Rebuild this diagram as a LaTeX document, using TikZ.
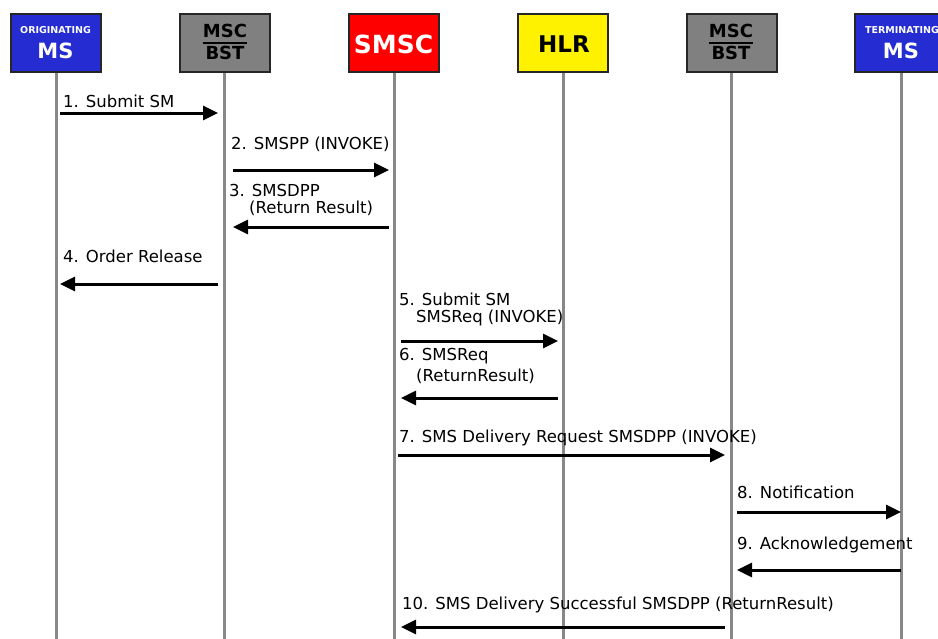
\documentclass[tikz,border=0pt]{standalone}
\usepackage{fontspec}
\setmainfont{DejaVu Sans}
\usetikzlibrary{arrows.meta}
\definecolor{msblue}{RGB}{36,44,210}
\definecolor{mscgray}{RGB}{128,128,128}
\definecolor{lifegray}{RGB}{136,136,136}
\begin{document}
\begin{tikzpicture}[x=1pt,y=-1pt,
  hdr/.style={draw=black!85, line width=2pt, minimum width=90pt, minimum height=58pt, inner sep=0pt},
  htxt/.style={inner sep=0pt, font=\bfseries},
  life/.style={draw=lifegray, line width=3pt},
  msg/.style={draw=black, line width=3pt, -{Triangle[length=15pt,width=14pt]}},
  lbl/.style={anchor=west, inner sep=0pt, font=\fontsize{16.5}{18}\selectfont}]
\useasboundingbox (0,0) rectangle (938,638);
% header boxes
\node[hdr, fill=msblue] (oms) at (55.5,43) {};
\node[htxt, text=white, font=\bfseries\fontsize{9.5}{10}\selectfont] (omsa) at (55.5,30) {ORIGINATING};
\node[htxt, text=white, font=\bfseries\fontsize{21}{22}\selectfont] (omsb) at (55.5,51) {MS};
\node[hdr, fill=mscgray] (msc1) at (225,43) {};
\node[htxt, font=\bfseries\fontsize{18}{18}\selectfont] (msc1a) at (225,31) {MSC};
\node[htxt, font=\bfseries\fontsize{18}{18}\selectfont] (msc1b) at (225,53) {BST};
\draw[line width=2pt] (msc1a.west |- 0,42.5) -- (msc1a.east |- 0,42.5);
\node[hdr, fill=red] (smsc) at (393.5,43) {};
\node[htxt, text=white, font=\bfseries\fontsize{25}{25}\selectfont] (smsct) at (393.5,44) {SMSC};
\node[hdr, fill=yellow] (hlr) at (562.5,43) {};
\node[htxt, font=\bfseries\fontsize{23}{23}\selectfont] (hlrt) at (564,44) {HLR};
\node[hdr, fill=mscgray] (msc2) at (732,43) {};
\node[htxt, font=\bfseries\fontsize{18}{18}\selectfont] (msc2a) at (731,31) {MSC};
\node[htxt, font=\bfseries\fontsize{18}{18}\selectfont] (msc2b) at (731,53) {BST};
\draw[line width=2pt] (msc2a.west |- 0,42.5) -- (msc2a.east |- 0,42.5);
\node[hdr, fill=msblue] (tms) at (900,43) {};
\node[htxt, text=white, font=\bfseries\fontsize{9.5}{10}\selectfont] (tmsa) at (902,30) {TERMINATING};
\node[htxt, text=white, font=\bfseries\fontsize{21}{22}\selectfont] (tmsb) at (901,51) {MS};
% lifeline ends
\coordinate (oe) at (56,640);
\coordinate (m1e) at (224,640);
\coordinate (se) at (394,640);
\coordinate (he) at (563,640);
\coordinate (m2e) at (731,640);
\coordinate (te) at (901,640);
\draw[life] (oms.south -| oe) -- (oe);
\draw[life] (msc1.south -| m1e) -- (m1e);
\draw[life] (smsc.south -| se) -- (se);
\draw[life] (hlr.south -| he) -- (he);
\draw[life] (msc2.south -| m2e) -- (m2e);
\draw[life] (tms.south -| te) -- (te);
% message endpoints
\coordinate (a1) at (60,113);  \coordinate (b1) at (218,113);
\coordinate (a2) at (233,170); \coordinate (b2) at (389,170);
\coordinate (a3) at (389,227); \coordinate (b3) at (233,227);
\coordinate (a4) at (218,284); \coordinate (b4) at (60,284);
\coordinate (a5) at (401,341); \coordinate (b5) at (558,341);
\coordinate (a6) at (558,398); \coordinate (b6) at (401,398);
\coordinate (a7) at (398,455); \coordinate (b7) at (725,455);
\coordinate (a8) at (737,512); \coordinate (b8) at (901,512);
\coordinate (a9) at (901,570); \coordinate (b9) at (737,570);
\coordinate (a10) at (725,627); \coordinate (b10) at (401,627);
\draw[msg] (a1) -- (b1);
\draw[msg] (a2) -- (b2);
\draw[msg] (a3) -- (b3);
\draw[msg] (a4) -- (b4);
\draw[msg] (a5) -- (b5);
\draw[msg] (a6) -- (b6);
\draw[msg] (a7) -- (b7);
\draw[msg] (a8) -- (b8);
\draw[msg] (a9) -- (b9);
\draw[msg] (a10) -- (b10);
% labels
\node[lbl] (l1) at (63,101) {1. Submit SM};
\node[lbl] (l2) at (231,144) {2. SMSPP (INVOKE)};
\node[lbl] (l3) at (229,190) {3. SMSDPP};
\node[lbl] (l3b) at (249,208) {(Return Result)};
\node[lbl] (l4) at (63,256) {4. Order Release};
\node[lbl] (l5) at (399,299) {5. Submit SM};
\node[lbl] (l5b) at (416,318) {SMSReq (INVOKE)};
\node[lbl] (l6) at (399,356) {6. SMSReq};
\node[lbl] (l6b) at (416,376) {(ReturnResult)};
\node[lbl] (l7) at (399,438) {7. SMS Delivery Request SMSDPP (INVOKE)};
\node[lbl] (l8) at (737,492) {8. Notification};
\node[lbl] (l9) at (737,545) {9. Acknowledgement};
\node[lbl] (l10) at (402,605) {10. SMS Delivery Successful SMSDPP (ReturnResult)};
\end{tikzpicture}
\end{document}
